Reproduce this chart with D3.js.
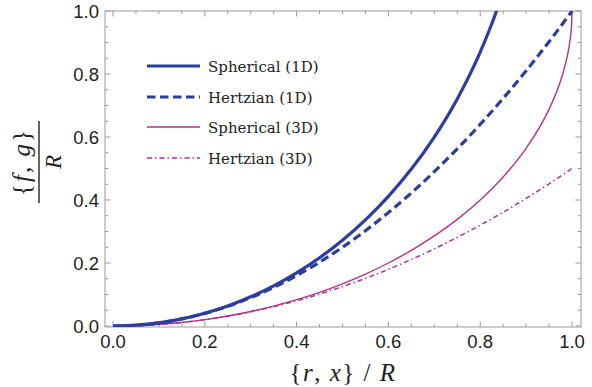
<!DOCTYPE html>
<html>
<head>
<meta charset="utf-8">
<script src="https://cdn.jsdelivr.net/npm/d3@7"></script>
<style>
  html, body { margin: 0; padding: 0; background: #fff; }
  svg { display: block; }
</style>
</head>
<body>
<svg id="chart" width="592" height="387"></svg>
<script>
// ---- Data ----
const xValues = [0, 0.05, 0.1, 0.15, 0.2, 0.25, 0.3, 0.35, 0.4, 0.45, 0.5, 0.55, 0.6, 0.65, 0.7, 0.75, 0.8, 0.85, 0.9, 0.95, 0.97, 0.98, 0.99, 0.995, 0.999, 1.0];

const sphericalX1D = [0, 0.05, 0.1, 0.15, 0.2, 0.25, 0.3, 0.35, 0.4, 0.45, 0.5, 0.55, 0.6, 0.65, 0.7, 0.75, 0.8, 0.82, 0.84, 0.85];
const spherical1D  = [0, 0.0025, 0.010, 0.0227, 0.0405, 0.0637, 0.0926, 0.1274, 0.1686, 0.2167, 0.2725, 0.3370, 0.4116, 0.4981, 0.5997, 0.7208, 0.8695, 0.9398, 1.018, 1.061];

const hertzian1D = [0, 0.0025, 0.01, 0.0225, 0.04, 0.0625, 0.09, 0.1225, 0.16, 0.2025, 0.25, 0.3025, 0.36, 0.4225, 0.49, 0.5625, 0.64, 0.7225, 0.81, 0.9025, 0.9409, 0.9604, 0.9801, 0.990, 0.998, 1.0];

const spherical3D = [0, 0.00125, 0.0050, 0.0113, 0.0202, 0.0318, 0.0461, 0.0633, 0.0835, 0.1070, 0.134, 0.1648, 0.200, 0.2401, 0.2859, 0.3386, 0.400, 0.4732, 0.5641, 0.6878, 0.7569, 0.801, 0.8589, 0.9001, 0.9553, 1.0];

const hertzian3D = [0, 0.00125, 0.005, 0.0113, 0.02, 0.0313, 0.045, 0.0613, 0.08, 0.1013, 0.125, 0.1513, 0.18, 0.2113, 0.245, 0.2813, 0.32, 0.3613, 0.405, 0.4513, 0.4705, 0.4802, 0.4901, 0.495, 0.4990, 0.5];

const seriesNames = ["Spherical (1D)", "Hertzian (1D)", "Spherical (3D)", "Hertzian (3D)"];
const xTickLabels = ["0.0", "0.2", "0.4", "0.6", "0.8", "1.0"];
const yTickLabels = ["0.0", "0.2", "0.4", "0.6", "0.8", "1.0"];

// ---- Styles ----
const BLUE = "#2b3e9d";
const MAGENTA = "#b3318f";
const styles = [
  { color: BLUE, width: 3.2, dash: null },
  { color: BLUE, width: 3.2, dash: "8.5,4.5" },
  { color: MAGENTA, width: 1.4, dash: null },
  { color: MAGENTA, width: 1.5, dash: "5,3,1.5,3" }
];

const series = [
  sphericalX1D.map((x, i) => [x, spherical1D[i]]),
  xValues.map((x, i) => [x, hertzian1D[i]]),
  xValues.map((x, i) => [x, spherical3D[i]]),
  xValues.map((x, i) => [x, hertzian3D[i]])
];

const svg = d3.select("#chart");
svg.append("rect").attr("width", 592).attr("height", 387).attr("fill", "#fff");

const frame = { left: 105, right: 581, top: 11, bottom: 327 };
const x = d3.scaleLinear().domain([0, 1]).range([113, 572]);
const y = d3.scaleLinear().domain([0, 1]).range([326, 11]);

const FRAME_COLOR = "#9a9a9a";
const TEXT_COLOR = "#222";

svg.append("clipPath").attr("id", "clip")
  .append("rect")
  .attr("x", frame.left).attr("y", frame.top)
  .attr("width", frame.right - frame.left).attr("height", frame.bottom - frame.top);

// Ticks
const majorX = xTickLabels.map(Number);
const minorX = d3.range(0, 21).map(i => i * 0.05).filter(v => Math.abs(Math.round(v / 0.2) * 0.2 - v) > 1e-6);
const majorY = yTickLabels.map(Number);
const minorY = minorX.slice();

const ticks = svg.append("g").attr("stroke", FRAME_COLOR).attr("stroke-width", 1);
const MAJ = 5.5, MIN = 3.2;
function drawXTicks(vals, len) {
  vals.forEach(v => {
    const px = x(v);
    ticks.append("line").attr("x1", px).attr("x2", px).attr("y1", frame.bottom).attr("y2", frame.bottom - len);
    ticks.append("line").attr("x1", px).attr("x2", px).attr("y1", frame.top).attr("y2", frame.top + len);
  });
}
function drawYTicks(vals, len) {
  vals.forEach(v => {
    const py = y(v);
    ticks.append("line").attr("x1", frame.left).attr("x2", frame.left + len).attr("y1", py).attr("y2", py);
    ticks.append("line").attr("x1", frame.right).attr("x2", frame.right - len).attr("y1", py).attr("y2", py);
  });
}
drawXTicks(majorX, MAJ); drawXTicks(minorX, MIN);
drawYTicks(majorY, MAJ); drawYTicks(minorY, MIN);

svg.append("rect")
  .attr("x", frame.left).attr("y", frame.top)
  .attr("width", frame.right - frame.left).attr("height", frame.bottom - frame.top)
  .attr("fill", "none").attr("stroke", FRAME_COLOR).attr("stroke-width", 1);

// Tick labels
const tickFont = "'Liberation Sans', Arial, sans-serif";
svg.append("g").selectAll("text").data(xTickLabels).join("text")
  .attr("x", d => x(+d)).attr("y", 348)
  .attr("text-anchor", "middle")
  .attr("font-family", tickFont).attr("font-size", 18.5).attr("fill", TEXT_COLOR)
  .text(d => d);
svg.append("g").selectAll("text").data(yTickLabels).join("text")
  .attr("x", 99).attr("y", d => y(+d) + 6.5)
  .attr("text-anchor", "end")
  .attr("font-family", tickFont).attr("font-size", 18.5).attr("fill", TEXT_COLOR)
  .text(d => d);

// Curves
const line = d3.line().x(d => x(d[0])).y(d => y(d[1])).curve(d3.curveMonotoneX);
const plot = svg.append("g").attr("clip-path", "url(#clip)");
[2, 3, 1, 0].forEach(i => {
  plot.append("path")
    .attr("d", line(series[i]))
    .attr("fill", "none")
    .attr("stroke", styles[i].color)
    .attr("stroke-width", styles[i].width)
    .attr("stroke-dasharray", styles[i].dash)
    .attr("stroke-linecap", "butt");
});

// Legend
const legendFont = "'DejaVu Serif', 'Liberation Serif', serif";
const legendYs = [66, 97, 127, 158];
const legend = svg.append("g");
seriesNames.forEach((name, i) => {
  legend.append("line")
    .attr("x1", 147).attr("x2", 200)
    .attr("y1", legendYs[i]).attr("y2", legendYs[i])
    .attr("stroke", styles[i].color)
    .attr("stroke-width", styles[i].width)
    .attr("stroke-dasharray", styles[i].dash);
  legend.append("text")
    .attr("x", 208).attr("y", legendYs[i] + 5.5)
    .attr("font-family", legendFont).attr("font-size", 15)
    .attr("fill", TEXT_COLOR)
    .text(name);
});

// X axis title: {r, x} / R
const serif = "'Liberation Serif', 'Times New Roman', serif";
const xt = svg.append("text")
  .attr("x", 343).attr("y", 381)
  .attr("text-anchor", "middle")
  .attr("font-family", serif).attr("font-size", 25).attr("fill", TEXT_COLOR)
  .attr("letter-spacing", 1.5)
  .attr("xml:space", "preserve");
xt.append("tspan").text("{");
xt.append("tspan").attr("font-style", "italic").text("r");
xt.append("tspan").text(", ");
xt.append("tspan").attr("font-style", "italic").text("x");
xt.append("tspan").text("} / ");
xt.append("tspan").attr("font-style", "italic").text("R");

// Y axis title: fraction {f, g} / R, rotated
const yt = svg.append("g").attr("transform", "translate(40,162) rotate(-90)");
const num = yt.append("text")
  .attr("x", 0).attr("y", -10)
  .attr("text-anchor", "middle")
  .attr("font-family", serif).attr("font-size", 25).attr("fill", TEXT_COLOR)
  .attr("letter-spacing", 2)
  .attr("xml:space", "preserve");
num.append("tspan").text("{");
num.append("tspan").attr("font-style", "italic").text("f");
num.append("tspan").text(", ");
num.append("tspan").attr("font-style", "italic").text("g");
num.append("tspan").text("}");
yt.append("line")
  .attr("x1", -41).attr("x2", 41).attr("y1", -1).attr("y2", -1)
  .attr("stroke", TEXT_COLOR).attr("stroke-width", 1.4);
yt.append("text")
  .attr("x", 0).attr("y", 21)
  .attr("text-anchor", "middle")
  .attr("font-family", serif).attr("font-size", 23).attr("font-style", "italic")
  .attr("fill", TEXT_COLOR)
  .text("R");
</script>
</body>
</html>
